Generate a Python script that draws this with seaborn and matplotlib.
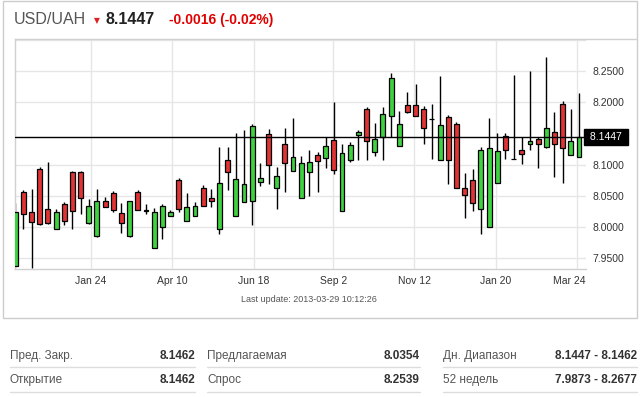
import numpy as np
import seaborn as sns
import matplotlib.pyplot as plt
import matplotlib.transforms as mtransforms
from matplotlib.lines import Line2D
from matplotlib.patches import Rectangle

# weekly candles
opens = [7.937, 8.055, 8.023, 8.092, 8.029, 7.997, 8.036, 8.088, 8.088, 8.006,
         7.985, 8.042, 8.054, 8.022, 7.985, 8.056, 8.027, 7.965, 7.999, 8.017,
         8.075, 8.009, 8.017, 8.063, 8.046, 7.996, 8.107, 8.017, 8.039, 8.042,
         8.072, 8.149, 8.063, 8.133, 8.089, 8.046, 8.088, 8.116, 8.110, 8.139,
         8.025, 8.107, 8.147, 8.189, 8.120, 8.145, 8.178, 8.129, 8.195, 8.195,
         8.190, 8.1735, 8.108, 8.176, 8.165, 8.062, 8.075, 8.028, 7.999, 8.071,
         8.146, 8.1095, 8.123, 8.133, 8.141, 8.128, 8.153, 8.198, 8.116, 8.112]
highs = [8.038, 8.059, 8.060, 8.096, 8.104, 8.028, 8.040, 8.090, 8.089, 8.044,
         8.060, 8.048, 8.057, 8.038, 8.042, 8.059, 8.036, 8.030, 8.036, 8.027,
         8.078, 8.054, 8.039, 8.067, 8.060, 8.128, 8.128, 8.150, 8.156, 8.165,
         8.102, 8.157, 8.096, 8.158, 8.174, 8.113, 8.124, 8.120, 8.144, 8.200,
         8.133, 8.136, 8.155, 8.192, 8.166, 8.192, 8.247, 8.186, 8.216, 8.229,
         8.194, 8.198, 8.242, 8.179, 8.168, 8.086, 8.092, 8.128, 8.174, 8.150,
         8.150, 8.244, 8.145, 8.250, 8.144, 8.273, 8.184, 8.202, 8.189, 8.215]
lows = [7.935, 7.996, 7.933, 8.003, 8.005, 7.997, 8.002, 7.997, 8.021, 8.005,
        7.984, 8.031, 8.024, 7.990, 7.984, 8.027, 8.020, 7.965, 7.981, 8.017,
        8.024, 8.009, 8.017, 8.034, 8.031, 7.989, 8.059, 8.017, 8.039, 8.003,
        8.066, 8.068, 8.029, 8.056, 8.089, 8.046, 8.050, 8.056, 8.094, 8.084,
        8.025, 8.104, 8.107, 8.107, 8.113, 8.107, 8.144, 8.129, 8.182, 8.178,
        8.133, 8.109, 8.108, 8.068, 8.062, 8.014, 8.026, 7.989, 7.999, 8.071,
        8.109, 8.109, 8.101, 8.123, 8.095, 8.126, 8.080, 8.071, 8.116, 8.112]
closes = [8.024, 8.020, 8.007, 8.004, 8.006, 8.023, 8.009, 8.026, 8.046, 8.034,
          8.041, 8.031, 8.027, 8.006, 8.042, 8.027, 8.026, 8.023, 8.033, 8.023,
          8.028, 8.031, 8.033, 8.034, 8.042, 8.070, 8.088, 8.076, 8.068, 8.162,
          8.079, 8.100, 8.081, 8.102, 8.112, 8.102, 8.104, 8.105, 8.129, 8.091,
          8.118, 8.131, 8.152, 8.137, 8.141, 8.181, 8.239, 8.165, 8.184, 8.178,
          8.158, 8.173, 8.163, 8.108, 8.062, 8.051, 8.038, 8.123, 8.126, 8.121,
          8.123, 8.109, 8.117, 8.137, 8.133, 8.158, 8.133, 8.126, 8.137, 8.145]

last_price = 8.1447
tick_pos = [9.24, 19.23, 29.23, 38.93, 48.85, 58.85, 68.8]
tick_labels = ['Jan 24', 'Apr 10', 'Jun 18', 'Sep 2', 'Nov 12', 'Jan 20', 'Mar 24']
y_ticks = [7.95, 8.0, 8.05, 8.1, 8.2, 8.25, 8.3]
y_labels = ['7.9500', '8.0000', '8.0500', '8.1000', '8.2000', '8.2500', '']

row_names = [['Пред. Закр.', 'Предлагаемая', 'Дн. Диапазон'],
             ['Открытие', 'Спрос', '52 недель']]
row_values = [['8.1462', '8.0354', '8.1447 - 8.1462'],
              ['8.1462', '8.2539', '7.9873 - 8.2677']]

sns.set_style('white')
plt.rcParams['font.family'] = ['Liberation Sans', 'DejaVu Sans']

W, H = 643, 397
fig = plt.figure(figsize=(W / 100, H / 100), dpi=100)

def fx(x):
    return x / W

def fy(y):
    return 1 - y / H

ax = fig.add_axes([fx(15), fy(269.3), (586 - 15) / W, (269.3 - 39.3) / H])

x = np.arange(len(opens))
o = np.array(opens)
c = np.array(closes)
colors = np.where(c >= o, '#3fd23f', '#df3434')

ax.vlines(x, lows, highs, color='black', lw=1, zorder=2)
ax.bar(x, np.abs(c - o), bottom=np.minimum(o, c), width=0.6, color=colors,
       edgecolor='black', linewidth=0.9, zorder=3)
ax.axhline(last_price, color='black', lw=1, zorder=4)

ax.set_xlim(-0.03, 69.86)
ax.set_ylim(7.9315, 8.3013)

ax.set_xticks(tick_pos)
ax.set_xticklabels(tick_labels, fontsize=7.5, color='#333333')
ax.set_yticks(y_ticks)
ax.set_yticklabels(y_labels, fontsize=7.5, color='#333333')
ax.yaxis.tick_right()
ax.tick_params(axis='both', length=0)
ax.tick_params(axis='x', pad=5)
ax.tick_params(axis='y', pad=4.5)
ax.grid(True, color='#e6e6e6', lw=1, zorder=0)
ax.set_axisbelow(True)

# shift last date label inside, like the original
lab = ax.get_xticklabels()[-1]
lab.set_transform(lab.get_transform() + mtransforms.ScaledTranslation(-8 / 100, 0, fig.dpi_scale_trans))

for side in ['left', 'bottom', 'top']:
    ax.spines[side].set_color('#d0d0d0')
    ax.spines[side].set_linewidth(1)
ax.spines['right'].set_visible(False)

trans = mtransforms.blended_transform_factory(ax.transAxes, ax.transData)
ax.text(1.0, last_price, ' 8.1447 ', transform=trans + mtransforms.ScaledTranslation(1 / 100, 0, fig.dpi_scale_trans),
        ha='left', va='center', fontsize=7.5, color='white',
        bbox=dict(facecolor='black', edgecolor='black', boxstyle='square,pad=0.3'), zorder=5)

# panel border and header line
fig.add_artist(Rectangle((fx(3), fy(318)), (637 - 3) / W, (318 - 1) / H,
                         transform=fig.transFigure, fill=False, edgecolor='#cccccc', lw=1))
fig.add_artist(Line2D([fx(586), fx(637)], [fy(39.3), fy(39.3)], color='#d0d0d0', lw=1))

# header
fig.text(fx(14), fy(20), 'USD/UAH', fontsize=11.5, color='#555555', va='center', ha='left')
fig.text(fx(97), fy(21), '▼', fontsize=5.5, color='#e02020', va='center', ha='center',
         family=['DejaVu Sans'])
fig.text(fx(106), fy(20), '8.1447', fontsize=11.5, fontweight='bold', color='#222222', va='center')
fig.text(fx(169), fy(20), '-0.0016 (-0.02%)', fontsize=10, fontweight='bold', color='#e00000', va='center')

fig.text(fx(309), fy(300), 'Last update: 2013-03-29 10:12:26', fontsize=6.5, color='#555555',
         ha='center', va='center')

# bottom table
cols = [(10, 195), (207, 420), (443, 637)]
row_y = [356, 380]
line_y = [367, 392]
for r in range(2):
    for k, (x0, x1) in enumerate(cols):
        fig.text(fx(x0), fy(row_y[r]), row_names[r][k], fontsize=8.5, color='#555555', va='center', ha='left')
        fig.text(fx(x1), fy(row_y[r]), row_values[r][k], fontsize=8.5, fontweight='bold', color='#333333',
                 va='center', ha='right')
        fig.add_artist(Line2D([fx(x0), fx(x1)], [fy(line_y[r]), fy(line_y[r])], color='#dddddd', lw=1))

fig.savefig('out.png', dpi=100)
